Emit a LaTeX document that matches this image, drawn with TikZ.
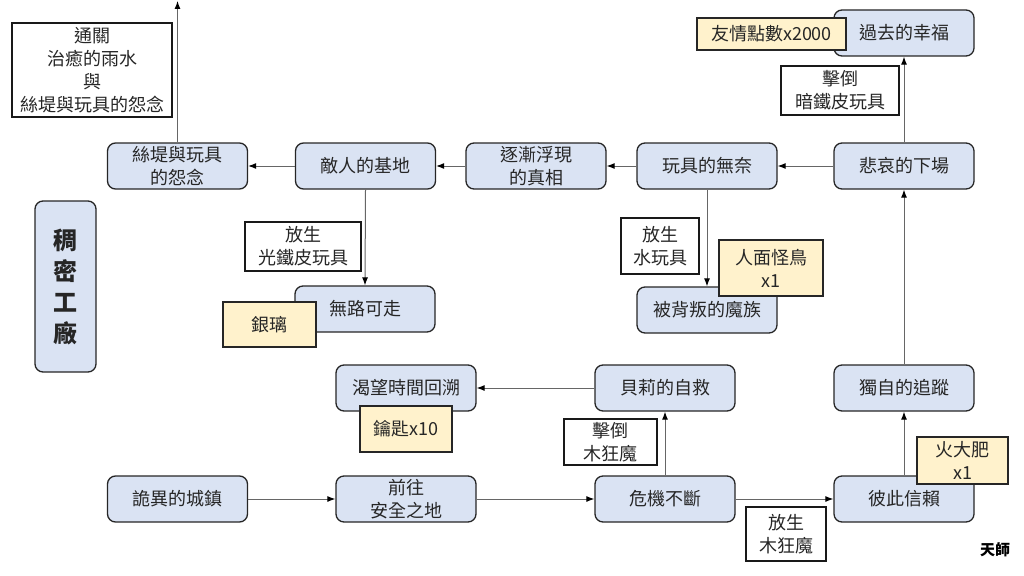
\documentclass[tikz,border=0pt]{standalone}
\usepackage{fontspec}
\setmainfont{Noto Sans CJK TC}
\usetikzlibrary{arrows.meta}
\definecolor{bluefill}{HTML}{DAE3F3}
\definecolor{yelfill}{HTML}{FFF2CC}
\definecolor{txt}{HTML}{262626}
\definecolor{edge}{HTML}{666666}
\tikzset{
  base/.style={align=center, text=txt, inner sep=0pt, font=\fontsize{18}{23}\selectfont},
  stage/.style={base, draw=black!85, line width=1.3pt, fill=bluefill, rounded corners=8pt, minimum width=140pt, minimum height=46pt},
  cond/.style={base, draw=black!90, line width=1.3pt, fill=white},
  item/.style={base, draw=black!85, line width=1.3pt, fill=yelfill},
  link/.style={draw=edge, line width=1pt, -{Latex[length=8pt,width=6pt,color=black]}}
}
\begin{document}
\begin{tikzpicture}[x=1pt,y=-1pt]
\useasboundingbox (0,0) rectangle (1024,575);
% stages
\node[stage] (silk) at (177.5,166) {絲堤與玩具\\的怨念};
\node[stage] (enemy) at (365.5,166) {敵人的基地};
\node[stage] (truth) at (536,166) {逐漸浮現\\的真相};
\node[stage] (toy) at (707,166) {玩具的無奈};
\node[stage] (sad) at (904,166) {悲哀的下場};
\node[stage] (past) at (904,33) {過去的幸福};
\node[stage] (noway) at (365,309) {無路可走};
\node[stage] (betray) at (707,310) {被背叛的魔族};
\node[stage] (long) at (406,388) {渴望時間回溯};
\node[stage] (belly) at (665,388) {貝莉的自救};
\node[stage] (alone) at (904,388) {獨自的追蹤};
\node[stage] (town) at (177.5,499) {詭異的城鎮};
\node[stage] (safe) at (406,499) {前往\\安全之地};
\node[stage] (crisis) at (665,499) {危機不斷};
\node[stage] (trust) at (904,499) {彼此信賴};
\node[stage, minimum width=61pt, minimum height=171pt, font=\fontsize{24}{31}\selectfont\bfseries] (area) at (65.5,286.5) {稠\\密\\工\\廠};
% conditions
\node[cond, minimum width=160pt, minimum height=94pt] (clear) at (92,70) {通關\\治癒的雨水\\與\\絲堤與玩具的怨念};
\node[cond, minimum width=118pt, minimum height=49pt] (c1) at (840,90.5) {擊倒\\暗鐵皮玩具};
\node[cond, minimum width=116pt, minimum height=49pt] (c2) at (303,246.5) {放生\\光鐵皮玩具};
\node[cond, minimum width=78pt, minimum height=56pt] (c3) at (660,246) {放生\\水玩具};
\node[cond, minimum width=93pt, minimum height=46pt] (c4) at (610.5,442) {擊倒\\木狂魔};
\node[cond, minimum width=80pt, minimum height=54pt] (c5) at (786,534) {放生\\木狂魔};
% items
\node[item, minimum width=149pt, minimum height=32pt] (i1) at (771.5,34) {友情點數x2000};
\node[item, minimum width=93pt, minimum height=45pt] (i2) at (269.5,324.5) {銀璃};
\node[item, minimum width=104pt, minimum height=56pt] (i3) at (771,268) {人面怪鳥\\x1};
\node[item, minimum width=92pt, minimum height=46pt] (i4) at (406,429) {鑰匙x10};
\node[item, minimum width=91pt, minimum height=47pt] (i5) at (962.5,460.5) {火大肥\\x1};
% signature
\node[base, font=\fontsize{15}{18}\selectfont\bfseries, text=black] (sig) at (995,550) {天師};
% connectors
\coordinate (exit) at (177.5,1);
\draw[link] (silk.north) -- (exit);
\draw[link] (enemy) -- (silk);
\draw[link] (truth) -- (enemy);
\draw[link] (toy) -- (truth);
\draw[link] (sad) -- (toy);
\draw[link] (sad) -- (past);
\draw[link] (enemy.south) -- (noway.north);
\draw[link] (toy.south) -- (betray.north);
\draw[link] (belly) -- (long);
\draw[link] (crisis) -- (belly);
\draw[link] (trust) -- (alone);
\draw[link] (alone) -- (sad);
\draw[link] (town) -- (safe);
\draw[link] (safe) -- (crisis);
\draw[link] (crisis) -- (trust);
\end{tikzpicture}
\end{document}
